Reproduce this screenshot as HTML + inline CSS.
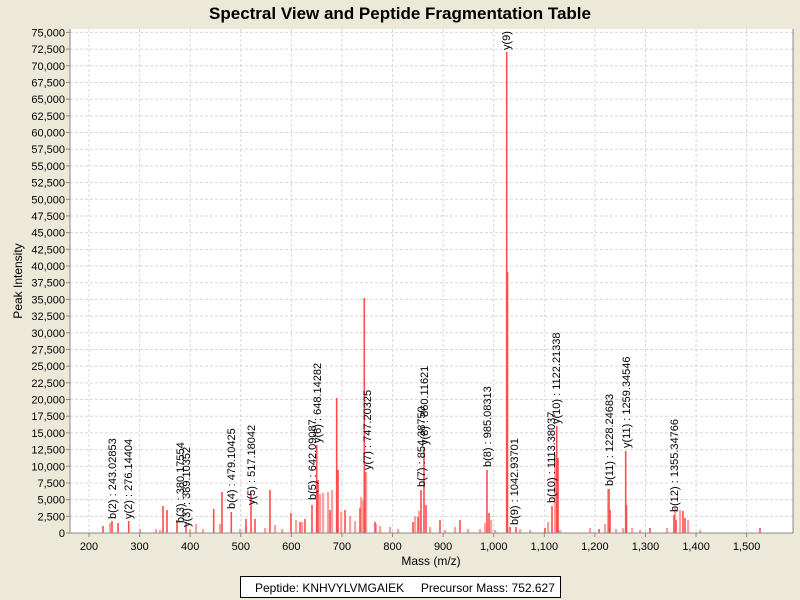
<!DOCTYPE html>
<html><head><meta charset="utf-8"><style>
html,body{margin:0;padding:0;background:#ece9d8;}
svg{display:block;font-family:"Liberation Sans",sans-serif;}
</style></head><body>
<svg width="800" height="600" viewBox="0 0 800 600">
<rect width="800" height="600" fill="#ece9d8"/>
<text x="400" y="19" text-anchor="middle" font-size="17" font-weight="bold">Spectral View and Peptide Fragmentation Table</text>
<defs><clipPath id="pc"><rect x="70" y="29" width="723" height="504"/></clipPath></defs>
<rect x="70" y="29" width="723" height="504" fill="#fff"/>
<g id="grid" stroke="#d8d8d8" stroke-dasharray="3,2" stroke-width="1"></g>
<g id="peaks" clip-path="url(#pc)"></g>
<g id="labels" clip-path="url(#pc)" font-size="11" fill="#000"></g>
<line x1="70" y1="29" x2="70" y2="533" stroke="#888"/>
<line x1="70" y1="533" x2="793" y2="533" stroke="#888"/>
<line x1="793" y1="29" x2="793" y2="533" stroke="#888"/>
<g id="yt" font-size="11" text-anchor="end"></g>
<g id="xt" font-size="11" text-anchor="middle"></g>
<text x="431" y="565" text-anchor="middle" font-size="12">Mass (m/z)</text>
<text transform="translate(22,281) rotate(-90)" text-anchor="middle" font-size="12">Peak Intensity</text>
<rect x="240.5" y="576.5" width="320" height="21" fill="#fff" stroke="#000"/>
<text x="255" y="592" font-size="12" xml:space="preserve">Peptide: KNHVYLVMGAIEK     Precursor Mass: 752.627</text>
</svg>
<script>
var NS="http://www.w3.org/2000/svg";
function el(t,a,p,txt){var e=document.createElementNS(NS,t);for(var k in a)e.setAttribute(k,a[k]);if(txt)e.textContent=txt;document.getElementById(p).appendChild(e);return e;}
for(var i=0;i<=30;i++){var v=i*2500,y=533-v*0.006675;
 if(i>0)el("line",{x1:70,y1:y,x2:793,y2:y},"grid");
 el("line",{x1:66,y1:y,x2:70,y2:y,stroke:"#888"},"yt");
 el("text",{x:65,y:y+4},"yt",v.toLocaleString("en-US"));}
for(var m=200;m<=1500;m+=100){var x=89+(m-200)*0.5059;
 el("line",{x1:x,y1:29,x2:x,y2:533},"grid");
 el("line",{x1:x,y1:533,x2:x,y2:537,stroke:"#888"},"xt");
 el("text",{x:x,y:550},"xt",m.toLocaleString("en-US"));}
var light=[110,523,140,529,156,529,160,530,190,529,196,524,203,529,220,524,240,529,246,527,265,528,275,525,282,529,296,520,302,522,320,494,323,493,328,492,332,490,341,512,350,516,355,521,361,497,376,524,380,526,390,527,398,529,415,516,419,511,430,527,445,530,455,527,468,529,480,529,485,523,491,520,495,530,520,529,530,530,548,522,555,455,560,530,590,528,605,524,616,529,623,528,632,528,640,530,667,528,675,508,680,510,688,520,700,530,366,472,363,500,608,489];
var strong=[103,526,112,521,118,523,128.7,521,163,506,167,510,177,520,186,522,213.7,509,222,492,231.3,512,246,519,251,493,255,519,270,490,291,513,300,522,305,519,312,505,316.7,445,318,480,330,510,336.7,398,338,470,345,510,360,508,364.3,298,365,472,375,522,413,522,418,517,421,490,424,447,426,505,440,520,460,520,487,470,489,513,506.7,52,507.5,272,510,527,516,527,545,528,552,506,556.7,426,558,458,599,529,609,489,610,510,625.7,451,626.5,505,650,528,674,515,676,520,683,511,685,518,760,528];
for(var i=0;i<light.length;i+=2)el("rect",{x:light[i]-1,y:light[i+1],width:2.2,height:533-light[i+1],fill:"#ffa0a0"},"peaks");
for(var i=0;i<strong.length;i+=2)el("rect",{x:strong[i]-0.8,y:strong[i+1],width:1.6,height:533-strong[i+1],fill:"#ff4d4d"},"peaks");
var labs=[[112,519,"b(2) : 243.02853"],[128,519,"y(2) : 276.14404"],[180,523,"b(3) : 380.17554"],[186,527,"y(3) : 389.10352"],[231,509,"b(4) : 479.10425"],[251,505,"y(5) : 517.18042"],[312,500,"b(5) : 642.09087"],[317,443,"y(6) : 648.14282"],[367,470,"y(7) : 747.20325"],[421,487,"b(7) : 854.38750"],[424,445,"y(8) : 860.11621"],[487,467,"b(8) : 985.08313"],[506,50,"y(9) : 1026.4"],[514,525,"b(9) : 1042.93701"],[551,503,"b(10) : 1113.38037"],[556,424,"y(10) : 1122.21338"],[609,486,"b(11) : 1228.24683"],[626,448,"y(11) : 1259.34546"],[674,512,"b(12) : 1355.34766"]];
labs.forEach(function(l){el("text",{transform:"translate("+(l[0]+4)+","+l[1]+") rotate(-90)"},"labels",l[2]);});
</script>
</body></html>
